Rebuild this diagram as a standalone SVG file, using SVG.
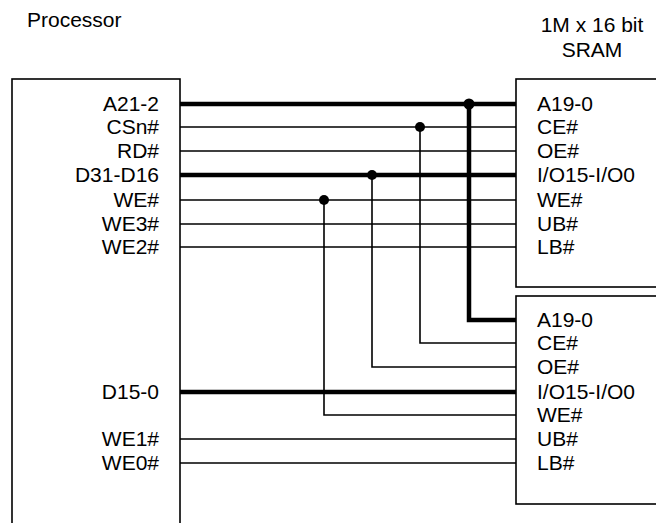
<svg xmlns="http://www.w3.org/2000/svg" width="656" height="523" viewBox="0 0 656 523">
<style>
text{font-family:"Liberation Sans",Arial,sans-serif;font-size:21px;fill:#000}
.r{text-anchor:end}
.c{text-anchor:middle}
.box{fill:#fff;stroke:#000;stroke-width:1.6}
.thin{fill:none;stroke:#000;stroke-width:1.6}
.thick{fill:none;stroke:#000;stroke-width:4.5}
.dot{fill:#000}
</style>
<rect width="656" height="523" fill="#fff"/>
<text x="27" y="27">Processor</text>
<text class="c" x="592" y="32">1M x 16 bit</text>
<text class="c" x="592" y="57">SRAM</text>
<g id="processor">
<rect class="box" x="12" y="79" width="168" height="460"/>
<text class="r" x="159" y="111">A21-2</text>
<text class="r" x="159" y="134">CSn#</text>
<text class="r" x="159" y="158">RD#</text>
<text class="r" x="159" y="182">D31-D16</text>
<text class="r" x="159" y="207">WE#</text>
<text class="r" x="159" y="231">WE3#</text>
<text class="r" x="159" y="254">WE2#</text>
<text class="r" x="159" y="399">D15-0</text>
<text class="r" x="159" y="446">WE1#</text>
<text class="r" x="159" y="470">WE0#</text>
</g>
<g id="sram1">
<rect class="box" x="516" y="79" width="160" height="208"/>
<text x="537" y="111">A19-0</text>
<text x="537" y="134">CE#</text>
<text x="537" y="158">OE#</text>
<text x="537" y="182">I/O15-I/O0</text>
<text x="537" y="207">WE#</text>
<text x="537" y="231">UB#</text>
<text x="537" y="254">LB#</text>
</g>
<g id="sram2">
<rect class="box" x="516" y="296" width="160" height="208"/>
<text x="537" y="327">A19-0</text>
<text x="537" y="350">CE#</text>
<text x="537" y="374">OE#</text>
<text x="537" y="399">I/O15-I/O0</text>
<text x="537" y="422">WE#</text>
<text x="537" y="446">UB#</text>
<text x="537" y="470">LB#</text>
</g>
<g id="connectors">
<path class="thick" d="M180 104H516M469 104V320H516M180 175H516M180 392H516"/>
<path class="thin" d="M180 127H516M420 127V343H516M180 151H516M372 175V367H516M180 200H516M324 200V415H516M180 224H516M180 247H516M180 439H516M180 463H516"/>
<circle class="dot" cx="469" cy="104" r="5.5"/>
<circle class="dot" cx="420" cy="127" r="5"/>
<circle class="dot" cx="372" cy="175" r="5"/>
<circle class="dot" cx="324" cy="200" r="5"/>
</g>
</svg>
